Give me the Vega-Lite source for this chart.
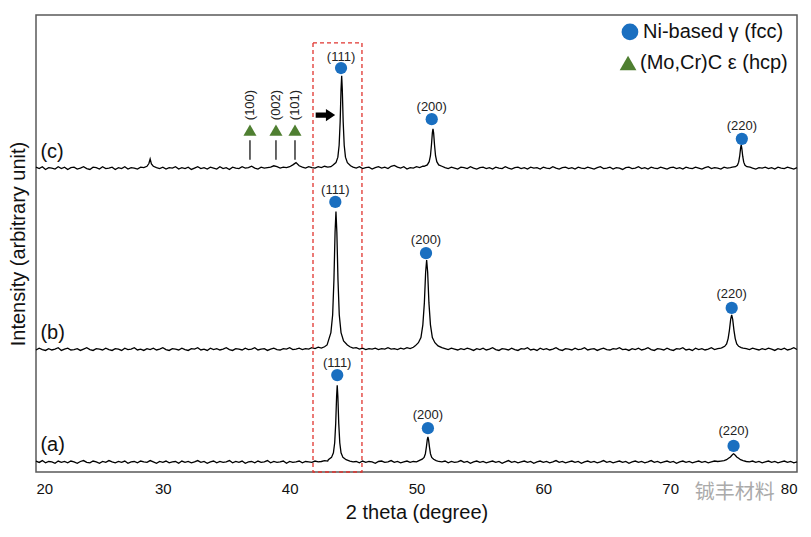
{
  "$schema": "https://vega.github.io/schema/vega-lite/v6.json",
  "width": 761,
  "height": 457,
  "autosize": {"type": "none"},
  "padding": {"left": 36, "top": 15, "right": 14, "bottom": 65},
  "background": "white",
  "config": {
    "view": {"stroke": "#5a5a5a", "strokeWidth": 1.5},
    "font": "Liberation Sans",
    "text": {"font": "Liberation Sans"}
  },
  "datasets": {
    "xrd": [
      {"t":"c","x":20,"y":66.7},{"t":"c","x":20.25,"y":66.4},{"t":"c","x":20.5,"y":66.8},{"t":"c","x":20.75,"y":66.2},{"t":"c","x":21,"y":66.6},{"t":"c","x":21.25,"y":66.5},{"t":"c","x":21.5,"y":66.3},{"t":"c","x":21.75,"y":66.8},{"t":"c","x":22,"y":66.4},{"t":"c","x":22.25,"y":66.7},{"t":"c","x":22.5,"y":66.2},{"t":"c","x":22.75,"y":66.6},{"t":"c","x":23,"y":66.7},{"t":"c","x":23.25,"y":66.3},{"t":"c","x":23.5,"y":66.5},{"t":"c","x":23.75,"y":66.8},{"t":"c","x":24,"y":66.4},{"t":"c","x":24.25,"y":66.2},{"t":"c","x":24.5,"y":66.7},{"t":"c","x":24.75,"y":66.6},{"t":"c","x":25,"y":66.3},{"t":"c","x":25.25,"y":66.8},{"t":"c","x":25.5,"y":66.4},{"t":"c","x":25.75,"y":66.5},{"t":"c","x":26,"y":66.7},{"t":"c","x":26.25,"y":66.2},{"t":"c","x":26.5,"y":66.6},{"t":"c","x":26.75,"y":66.4},{"t":"c","x":27,"y":66.8},{"t":"c","x":27.25,"y":66.3},{"t":"c","x":27.5,"y":66.6},{"t":"c","x":27.75,"y":66.5},{"t":"c","x":28,"y":66.3},{"t":"c","x":28.25,"y":66.7},{"t":"c","x":28.5,"y":66.6},{"t":"c","x":28.75,"y":66.9},{"t":"c","x":28.9,"y":67.5},{"t":"c","x":29,"y":68.5},{"t":"c","x":29.1,"y":67.4},{"t":"c","x":29.25,"y":66.9},{"t":"c","x":29.5,"y":66.6},{"t":"c","x":29.75,"y":66.4},{"t":"c","x":30,"y":66.7},{"t":"c","x":30.25,"y":66.3},{"t":"c","x":30.5,"y":66.6},{"t":"c","x":30.75,"y":66.5},{"t":"c","x":31,"y":66.8},{"t":"c","x":31.25,"y":66.3},{"t":"c","x":31.5,"y":66.6},{"t":"c","x":31.75,"y":66.4},{"t":"c","x":32,"y":66.7},{"t":"c","x":32.25,"y":66.2},{"t":"c","x":32.5,"y":66.5},{"t":"c","x":32.75,"y":66.8},{"t":"c","x":33,"y":66.4},{"t":"c","x":33.25,"y":66.6},{"t":"c","x":33.5,"y":66.3},{"t":"c","x":33.75,"y":66.7},{"t":"c","x":34,"y":66.5},{"t":"c","x":34.25,"y":66.3},{"t":"c","x":34.5,"y":66.8},{"t":"c","x":34.75,"y":66.4},{"t":"c","x":35,"y":66.6},{"t":"c","x":35.25,"y":66.2},{"t":"c","x":35.5,"y":66.7},{"t":"c","x":35.75,"y":66.5},{"t":"c","x":36,"y":66.4},{"t":"c","x":36.25,"y":66.8},{"t":"c","x":36.5,"y":66.5},{"t":"c","x":36.75,"y":66.6},{"t":"c","x":37,"y":66.9},{"t":"c","x":37.25,"y":66.5},{"t":"c","x":37.5,"y":66.3},{"t":"c","x":37.75,"y":66.7},{"t":"c","x":38,"y":66.5},{"t":"c","x":38.25,"y":66.6},{"t":"c","x":38.5,"y":66.7},{"t":"c","x":38.75,"y":67.0},{"t":"c","x":39,"y":66.8},{"t":"c","x":39.25,"y":66.5},{"t":"c","x":39.5,"y":66.7},{"t":"c","x":39.75,"y":66.6},{"t":"c","x":40,"y":66.8},{"t":"c","x":40.25,"y":67.2},{"t":"c","x":40.5,"y":67.7},{"t":"c","x":40.75,"y":67.0},{"t":"c","x":41,"y":66.7},{"t":"c","x":41.25,"y":66.5},{"t":"c","x":41.5,"y":66.8},{"t":"c","x":41.75,"y":66.6},{"t":"c","x":42,"y":66.5},{"t":"c","x":42.25,"y":66.8},{"t":"c","x":42.5,"y":66.6},{"t":"c","x":42.75,"y":66.9},{"t":"c","x":43,"y":66.7},{"t":"c","x":43.25,"y":66.8},
      {"t":"c","x":43.4,"y":67.1},{"t":"c","x":43.65,"y":67.7},{"t":"c","x":43.8,"y":68.9},{"t":"c","x":43.9,"y":71.5},{"t":"c","x":43.98,"y":76.6},{"t":"c","x":44.05,"y":83.7},{"t":"c","x":44.1,"y":86.7},{"t":"c","x":44.15,"y":83.7},{"t":"c","x":44.22,"y":76.6},{"t":"c","x":44.3,"y":71.5},{"t":"c","x":44.4,"y":68.9},{"t":"c","x":44.55,"y":67.7},{"t":"c","x":44.8,"y":67.0},
      {"t":"c","x":45,"y":66.7},{"t":"c","x":45.25,"y":66.5},{"t":"c","x":45.5,"y":66.8},{"t":"c","x":45.75,"y":66.4},{"t":"c","x":46,"y":66.6},{"t":"c","x":46.25,"y":66.7},{"t":"c","x":46.5,"y":66.3},{"t":"c","x":46.75,"y":66.6},{"t":"c","x":47,"y":66.8},{"t":"c","x":47.25,"y":66.5},{"t":"c","x":47.5,"y":66.7},{"t":"c","x":47.75,"y":66.4},{"t":"c","x":48,"y":66.9},{"t":"c","x":48.25,"y":67.1},{"t":"c","x":48.5,"y":66.7},{"t":"c","x":48.75,"y":66.5},{"t":"c","x":49,"y":66.8},{"t":"c","x":49.25,"y":66.3},{"t":"c","x":49.5,"y":66.6},{"t":"c","x":49.75,"y":66.5},{"t":"c","x":50,"y":66.8},{"t":"c","x":50.25,"y":66.6},{"t":"c","x":50.5,"y":66.9},
      {"t":"c","x":50.6,"y":66.9},{"t":"c","x":50.85,"y":67.2},{"t":"c","x":51.0,"y":67.9},{"t":"c","x":51.1,"y":69.2},{"t":"c","x":51.18,"y":71.6},{"t":"c","x":51.25,"y":74.2},{"t":"c","x":51.3,"y":75.1},{"t":"c","x":51.35,"y":74.2},{"t":"c","x":51.42,"y":71.6},{"t":"c","x":51.5,"y":69.2},{"t":"c","x":51.6,"y":67.9},{"t":"c","x":51.75,"y":67.2},{"t":"c","x":52.0,"y":66.9},
      {"t":"c","x":52.25,"y":66.6},{"t":"c","x":52.5,"y":66.4},{"t":"c","x":52.75,"y":66.7},{"t":"c","x":53,"y":66.5},{"t":"c","x":53.25,"y":66.3},{"t":"c","x":53.5,"y":66.7},{"t":"c","x":53.75,"y":66.6},{"t":"c","x":54,"y":66.4},{"t":"c","x":54.25,"y":66.8},{"t":"c","x":54.5,"y":66.5},{"t":"c","x":54.75,"y":66.3},{"t":"c","x":55,"y":66.6},{"t":"c","x":55.25,"y":66.7},{"t":"c","x":55.5,"y":66.4},{"t":"c","x":55.75,"y":66.6},{"t":"c","x":56,"y":66.3},{"t":"c","x":56.25,"y":66.7},{"t":"c","x":56.5,"y":66.5},{"t":"c","x":56.75,"y":66.4},{"t":"c","x":57,"y":66.8},{"t":"c","x":57.25,"y":66.5},{"t":"c","x":57.5,"y":66.3},{"t":"c","x":57.75,"y":66.6},{"t":"c","x":58,"y":66.7},{"t":"c","x":58.25,"y":66.4},{"t":"c","x":58.5,"y":66.6},{"t":"c","x":58.75,"y":66.3},{"t":"c","x":59,"y":66.7},{"t":"c","x":59.25,"y":66.5},{"t":"c","x":59.5,"y":66.6},{"t":"c","x":59.75,"y":66.3},{"t":"c","x":60,"y":66.7},{"t":"c","x":60.25,"y":66.5},{"t":"c","x":60.5,"y":66.4},{"t":"c","x":60.75,"y":66.8},{"t":"c","x":61,"y":66.5},{"t":"c","x":61.25,"y":66.3},{"t":"c","x":61.5,"y":66.6},{"t":"c","x":61.75,"y":66.7},{"t":"c","x":62,"y":66.4},{"t":"c","x":62.25,"y":66.6},{"t":"c","x":62.5,"y":66.3},{"t":"c","x":62.75,"y":66.7},{"t":"c","x":63,"y":66.5},{"t":"c","x":63.25,"y":66.4},{"t":"c","x":63.5,"y":66.7},{"t":"c","x":63.75,"y":66.5},{"t":"c","x":64,"y":66.3},{"t":"c","x":64.25,"y":66.6},{"t":"c","x":64.5,"y":66.8},{"t":"c","x":64.75,"y":66.4},{"t":"c","x":65,"y":66.5},{"t":"c","x":65.25,"y":66.7},{"t":"c","x":65.5,"y":66.3},{"t":"c","x":65.75,"y":66.6},{"t":"c","x":66,"y":66.5},{"t":"c","x":66.25,"y":66.2},{"t":"c","x":66.5,"y":66.6},{"t":"c","x":66.75,"y":66.7},{"t":"c","x":67,"y":66.4},{"t":"c","x":67.25,"y":66.5},{"t":"c","x":67.5,"y":66.8},{"t":"c","x":67.75,"y":66.4},{"t":"c","x":68,"y":66.6},{"t":"c","x":68.25,"y":66.3},{"t":"c","x":68.5,"y":66.7},{"t":"c","x":68.75,"y":66.5},{"t":"c","x":69,"y":66.4},{"t":"c","x":69.25,"y":66.7},{"t":"c","x":69.5,"y":66.5},{"t":"c","x":69.75,"y":66.3},{"t":"c","x":70,"y":66.6},{"t":"c","x":70.25,"y":66.7},{"t":"c","x":70.5,"y":66.4},{"t":"c","x":70.75,"y":66.6},{"t":"c","x":71,"y":66.3},{"t":"c","x":71.25,"y":66.7},{"t":"c","x":71.5,"y":66.5},{"t":"c","x":71.75,"y":66.4},{"t":"c","x":72,"y":66.7},{"t":"c","x":72.25,"y":66.5},{"t":"c","x":72.5,"y":66.3},{"t":"c","x":72.75,"y":66.6},{"t":"c","x":73,"y":66.8},{"t":"c","x":73.25,"y":66.4},{"t":"c","x":73.5,"y":66.6},{"t":"c","x":73.75,"y":66.5},{"t":"c","x":74,"y":66.3},{"t":"c","x":74.25,"y":66.7},{"t":"c","x":74.5,"y":66.5},{"t":"c","x":74.75,"y":66.6},
      {"t":"c","x":74.9,"y":66.7},{"t":"c","x":75.15,"y":66.8},{"t":"c","x":75.3,"y":67.1},{"t":"c","x":75.4,"y":67.8},{"t":"c","x":75.48,"y":69.1},{"t":"c","x":75.55,"y":70.8},{"t":"c","x":75.6,"y":71.6},{"t":"c","x":75.65,"y":70.8},{"t":"c","x":75.72,"y":69.1},{"t":"c","x":75.8,"y":67.8},{"t":"c","x":75.9,"y":67.1},{"t":"c","x":76.05,"y":66.8},{"t":"c","x":76.3,"y":66.7},
      {"t":"c","x":76.5,"y":66.5},{"t":"c","x":76.75,"y":66.3},{"t":"c","x":77,"y":66.6},{"t":"c","x":77.25,"y":66.5},{"t":"c","x":77.5,"y":66.7},{"t":"c","x":77.75,"y":66.4},{"t":"c","x":78,"y":66.6},{"t":"c","x":78.25,"y":66.3},{"t":"c","x":78.5,"y":66.7},{"t":"c","x":78.75,"y":66.5},{"t":"c","x":79,"y":66.4},{"t":"c","x":79.25,"y":66.7},{"t":"c","x":79.5,"y":66.5},{"t":"c","x":79.75,"y":66.3},{"t":"c","x":80,"y":66.6},

      {"t":"b","x":20,"y":26.7},{"t":"b","x":20.25,"y":27.1},{"t":"b","x":20.5,"y":26.8},{"t":"b","x":20.75,"y":26.6},{"t":"b","x":21,"y":27.0},{"t":"b","x":21.25,"y":26.7},{"t":"b","x":21.5,"y":26.9},{"t":"b","x":21.75,"y":27.2},{"t":"b","x":22,"y":26.6},{"t":"b","x":22.25,"y":26.9},{"t":"b","x":22.5,"y":27.1},{"t":"b","x":22.75,"y":26.7},{"t":"b","x":23,"y":26.8},{"t":"b","x":23.25,"y":27.0},{"t":"b","x":23.5,"y":26.6},{"t":"b","x":23.75,"y":26.9},{"t":"b","x":24,"y":27.2},{"t":"b","x":24.25,"y":26.8},{"t":"b","x":24.5,"y":26.6},{"t":"b","x":24.75,"y":27.0},{"t":"b","x":25,"y":26.9},{"t":"b","x":25.25,"y":26.7},{"t":"b","x":25.5,"y":27.1},{"t":"b","x":25.75,"y":26.8},{"t":"b","x":26,"y":26.6},{"t":"b","x":26.25,"y":27.0},{"t":"b","x":26.5,"y":26.9},{"t":"b","x":26.75,"y":26.6},{"t":"b","x":27,"y":27.1},{"t":"b","x":27.25,"y":26.8},{"t":"b","x":27.5,"y":26.9},{"t":"b","x":27.75,"y":27.2},{"t":"b","x":28,"y":26.7},{"t":"b","x":28.25,"y":26.9},{"t":"b","x":28.5,"y":26.6},{"t":"b","x":28.75,"y":27.0},{"t":"b","x":29,"y":26.8},{"t":"b","x":29.25,"y":27.1},{"t":"b","x":29.5,"y":26.7},{"t":"b","x":29.75,"y":26.9},{"t":"b","x":30,"y":27.2},{"t":"b","x":30.25,"y":26.8},{"t":"b","x":30.5,"y":26.6},{"t":"b","x":30.75,"y":27.0},{"t":"b","x":31,"y":26.9},{"t":"b","x":31.25,"y":26.7},{"t":"b","x":31.5,"y":27.1},{"t":"b","x":31.75,"y":26.8},{"t":"b","x":32,"y":26.6},{"t":"b","x":32.25,"y":27.0},{"t":"b","x":32.5,"y":26.9},{"t":"b","x":32.75,"y":27.2},{"t":"b","x":33,"y":26.7},{"t":"b","x":33.25,"y":26.9},{"t":"b","x":33.5,"y":26.6},{"t":"b","x":33.75,"y":27.1},{"t":"b","x":34,"y":26.8},{"t":"b","x":34.25,"y":27.0},{"t":"b","x":34.5,"y":26.7},{"t":"b","x":34.75,"y":26.9},{"t":"b","x":35,"y":27.2},{"t":"b","x":35.25,"y":26.8},{"t":"b","x":35.5,"y":26.6},{"t":"b","x":35.75,"y":27.0},{"t":"b","x":36,"y":26.9},{"t":"b","x":36.25,"y":26.7},{"t":"b","x":36.5,"y":27.1},{"t":"b","x":36.75,"y":26.8},{"t":"b","x":37,"y":26.9},{"t":"b","x":37.25,"y":27.2},{"t":"b","x":37.5,"y":26.7},{"t":"b","x":37.75,"y":26.9},{"t":"b","x":38,"y":27.0},{"t":"b","x":38.25,"y":26.6},{"t":"b","x":38.5,"y":26.9},{"t":"b","x":38.75,"y":27.1},{"t":"b","x":39,"y":26.8},{"t":"b","x":39.25,"y":26.7},{"t":"b","x":39.5,"y":27.0},{"t":"b","x":39.75,"y":26.9},{"t":"b","x":40,"y":27.2},{"t":"b","x":40.25,"y":26.8},{"t":"b","x":40.5,"y":26.9},{"t":"b","x":40.75,"y":27.1},{"t":"b","x":41,"y":26.8},{"t":"b","x":41.25,"y":27.0},{"t":"b","x":41.5,"y":26.9},{"t":"b","x":41.75,"y":27.2},{"t":"b","x":42,"y":27.0},{"t":"b","x":42.25,"y":27.3},{"t":"b","x":42.5,"y":27.1},{"t":"b","x":42.75,"y":27.4},
      {"t":"b","x":42.95,"y":27.8},{"t":"b","x":43.05,"y":28.7},{"t":"b","x":43.25,"y":30.5},{"t":"b","x":43.39,"y":34.4},{"t":"b","x":43.49,"y":42.0},{"t":"b","x":43.58,"y":52.5},{"t":"b","x":43.65,"y":57.0},{"t":"b","x":43.72,"y":52.5},{"t":"b","x":43.81,"y":42.0},{"t":"b","x":43.91,"y":34.4},{"t":"b","x":44.05,"y":30.5},{"t":"b","x":44.25,"y":28.7},{"t":"b","x":44.55,"y":27.8},
      {"t":"b","x":44.75,"y":27.4},{"t":"b","x":45,"y":27.1},{"t":"b","x":45.25,"y":27.2},{"t":"b","x":45.5,"y":26.9},{"t":"b","x":45.75,"y":27.1},{"t":"b","x":46,"y":26.8},{"t":"b","x":46.25,"y":27.0},{"t":"b","x":46.5,"y":26.9},{"t":"b","x":46.75,"y":27.1},{"t":"b","x":47,"y":26.8},{"t":"b","x":47.25,"y":27.0},{"t":"b","x":47.5,"y":26.9},{"t":"b","x":47.75,"y":27.2},{"t":"b","x":48,"y":26.9},{"t":"b","x":48.25,"y":27.0},{"t":"b","x":48.5,"y":26.8},{"t":"b","x":48.75,"y":27.1},{"t":"b","x":49,"y":26.9},{"t":"b","x":49.25,"y":27.2},{"t":"b","x":49.5,"y":27.0},{"t":"b","x":49.75,"y":27.3},
      {"t":"b","x":49.9,"y":27.6},{"t":"b","x":50.15,"y":28.3},{"t":"b","x":50.35,"y":29.4},{"t":"b","x":50.5,"y":32.2},{"t":"b","x":50.62,"y":37.0},{"t":"b","x":50.72,"y":43.7},{"t":"b","x":50.8,"y":46.4},{"t":"b","x":50.88,"y":43.7},{"t":"b","x":50.98,"y":37.0},{"t":"b","x":51.1,"y":32.2},{"t":"b","x":51.25,"y":29.4},{"t":"b","x":51.45,"y":28.3},{"t":"b","x":51.7,"y":27.6},
      {"t":"b","x":52,"y":27.2},{"t":"b","x":52.25,"y":27.0},{"t":"b","x":52.5,"y":26.8},{"t":"b","x":52.75,"y":27.1},{"t":"b","x":53,"y":26.9},{"t":"b","x":53.25,"y":26.7},{"t":"b","x":53.5,"y":27.0},{"t":"b","x":53.75,"y":26.8},{"t":"b","x":54,"y":27.1},{"t":"b","x":54.25,"y":26.9},{"t":"b","x":54.5,"y":26.6},{"t":"b","x":54.75,"y":27.0},{"t":"b","x":55,"y":26.8},{"t":"b","x":55.25,"y":27.1},{"t":"b","x":55.5,"y":26.7},{"t":"b","x":55.75,"y":26.9},{"t":"b","x":56,"y":27.2},{"t":"b","x":56.25,"y":26.8},{"t":"b","x":56.5,"y":26.6},{"t":"b","x":56.75,"y":27.0},{"t":"b","x":57,"y":26.9},{"t":"b","x":57.25,"y":26.7},{"t":"b","x":57.5,"y":27.1},{"t":"b","x":57.75,"y":26.8},{"t":"b","x":58,"y":26.6},{"t":"b","x":58.25,"y":27.0},{"t":"b","x":58.5,"y":26.9},{"t":"b","x":58.75,"y":27.2},{"t":"b","x":59,"y":26.7},{"t":"b","x":59.25,"y":26.9},{"t":"b","x":59.5,"y":26.6},{"t":"b","x":59.75,"y":27.1},{"t":"b","x":60,"y":26.8},{"t":"b","x":60.25,"y":27.0},{"t":"b","x":60.5,"y":26.7},{"t":"b","x":60.75,"y":26.9},{"t":"b","x":61,"y":27.2},{"t":"b","x":61.25,"y":26.8},{"t":"b","x":61.5,"y":26.6},{"t":"b","x":61.75,"y":27.0},{"t":"b","x":62,"y":26.9},{"t":"b","x":62.25,"y":26.7},{"t":"b","x":62.5,"y":27.1},{"t":"b","x":62.75,"y":26.8},{"t":"b","x":63,"y":26.9},{"t":"b","x":63.25,"y":27.2},{"t":"b","x":63.5,"y":26.7},{"t":"b","x":63.75,"y":26.9},{"t":"b","x":64,"y":27.0},{"t":"b","x":64.25,"y":26.6},{"t":"b","x":64.5,"y":26.9},{"t":"b","x":64.75,"y":27.1},{"t":"b","x":65,"y":26.8},{"t":"b","x":65.25,"y":26.7},{"t":"b","x":65.5,"y":27.0},{"t":"b","x":65.75,"y":26.9},{"t":"b","x":66,"y":27.2},{"t":"b","x":66.25,"y":26.8},{"t":"b","x":66.5,"y":26.9},{"t":"b","x":66.75,"y":26.6},{"t":"b","x":67,"y":27.0},{"t":"b","x":67.25,"y":26.8},{"t":"b","x":67.5,"y":27.1},{"t":"b","x":67.75,"y":26.7},{"t":"b","x":68,"y":26.9},{"t":"b","x":68.25,"y":27.2},{"t":"b","x":68.5,"y":26.8},{"t":"b","x":68.75,"y":26.6},{"t":"b","x":69,"y":27.0},{"t":"b","x":69.25,"y":26.9},{"t":"b","x":69.5,"y":26.7},{"t":"b","x":69.75,"y":27.1},{"t":"b","x":70,"y":26.8},{"t":"b","x":70.25,"y":26.6},{"t":"b","x":70.5,"y":27.0},{"t":"b","x":70.75,"y":26.9},{"t":"b","x":71,"y":27.2},{"t":"b","x":71.25,"y":26.7},{"t":"b","x":71.5,"y":26.9},{"t":"b","x":71.75,"y":26.6},{"t":"b","x":72,"y":27.1},{"t":"b","x":72.25,"y":26.8},{"t":"b","x":72.5,"y":27.0},{"t":"b","x":72.75,"y":26.7},{"t":"b","x":73,"y":26.9},{"t":"b","x":73.25,"y":27.2},{"t":"b","x":73.5,"y":26.8},{"t":"b","x":73.75,"y":27.0},{"t":"b","x":74,"y":27.1},
      {"t":"b","x":74.1,"y":27.2},{"t":"b","x":74.3,"y":27.5},{"t":"b","x":74.45,"y":28.0},{"t":"b","x":74.57,"y":29.2},{"t":"b","x":74.67,"y":31.0},{"t":"b","x":74.77,"y":33.4},{"t":"b","x":74.85,"y":34.4},{"t":"b","x":74.93,"y":33.4},{"t":"b","x":75.03,"y":31.0},{"t":"b","x":75.13,"y":29.2},{"t":"b","x":75.25,"y":28.0},{"t":"b","x":75.4,"y":27.5},{"t":"b","x":75.6,"y":27.2},
      {"t":"b","x":75.75,"y":27.1},{"t":"b","x":76,"y":27.0},{"t":"b","x":76.25,"y":26.8},{"t":"b","x":76.5,"y":27.1},{"t":"b","x":76.75,"y":26.9},{"t":"b","x":77,"y":26.7},{"t":"b","x":77.25,"y":27.0},{"t":"b","x":77.5,"y":26.8},{"t":"b","x":77.75,"y":27.1},{"t":"b","x":78,"y":26.9},{"t":"b","x":78.25,"y":26.6},{"t":"b","x":78.5,"y":27.0},{"t":"b","x":78.75,"y":26.8},{"t":"b","x":79,"y":27.1},{"t":"b","x":79.25,"y":26.7},{"t":"b","x":79.5,"y":26.9},{"t":"b","x":79.75,"y":27.2},{"t":"b","x":80,"y":26.8},

      {"t":"a","x":20,"y":2.4},{"t":"a","x":20.25,"y":2.1},{"t":"a","x":20.5,"y":2.5},{"t":"a","x":20.75,"y":2.0},{"t":"a","x":21,"y":2.3},{"t":"a","x":21.25,"y":2.2},{"t":"a","x":21.5,"y":1.9},{"t":"a","x":21.75,"y":2.4},{"t":"a","x":22,"y":2.1},{"t":"a","x":22.25,"y":2.3},{"t":"a","x":22.5,"y":2.0},{"t":"a","x":22.75,"y":2.4},{"t":"a","x":23,"y":2.2},{"t":"a","x":23.25,"y":1.9},{"t":"a","x":23.5,"y":2.3},{"t":"a","x":23.75,"y":2.5},{"t":"a","x":24,"y":2.1},{"t":"a","x":24.25,"y":2.0},{"t":"a","x":24.5,"y":2.4},{"t":"a","x":24.75,"y":2.2},{"t":"a","x":25,"y":1.9},{"t":"a","x":25.25,"y":2.3},{"t":"a","x":25.5,"y":2.1},{"t":"a","x":25.75,"y":2.5},{"t":"a","x":26,"y":2.2},{"t":"a","x":26.25,"y":2.0},{"t":"a","x":26.5,"y":2.3},{"t":"a","x":26.75,"y":2.1},{"t":"a","x":27,"y":2.4},{"t":"a","x":27.25,"y":1.9},{"t":"a","x":27.5,"y":2.2},{"t":"a","x":27.75,"y":2.3},{"t":"a","x":28,"y":2.0},{"t":"a","x":28.25,"y":2.4},{"t":"a","x":28.5,"y":2.2},{"t":"a","x":28.75,"y":2.1},{"t":"a","x":29,"y":2.5},{"t":"a","x":29.25,"y":2.2},{"t":"a","x":29.5,"y":1.9},{"t":"a","x":29.75,"y":2.3},{"t":"a","x":30,"y":2.1},{"t":"a","x":30.25,"y":2.4},{"t":"a","x":30.5,"y":2.0},{"t":"a","x":30.75,"y":2.2},{"t":"a","x":31,"y":2.3},{"t":"a","x":31.25,"y":1.9},{"t":"a","x":31.5,"y":2.4},{"t":"a","x":31.75,"y":2.1},{"t":"a","x":32,"y":2.3},{"t":"a","x":32.25,"y":2.0},{"t":"a","x":32.5,"y":2.2},{"t":"a","x":32.75,"y":2.5},{"t":"a","x":33,"y":2.1},{"t":"a","x":33.25,"y":2.3},{"t":"a","x":33.5,"y":1.9},{"t":"a","x":33.75,"y":2.2},{"t":"a","x":34,"y":2.4},{"t":"a","x":34.25,"y":2.0},{"t":"a","x":34.5,"y":2.3},{"t":"a","x":34.75,"y":2.1},{"t":"a","x":35,"y":2.2},{"t":"a","x":35.25,"y":2.5},{"t":"a","x":35.5,"y":2.0},{"t":"a","x":35.75,"y":2.3},{"t":"a","x":36,"y":2.1},{"t":"a","x":36.25,"y":2.4},{"t":"a","x":36.5,"y":1.9},{"t":"a","x":36.75,"y":2.2},{"t":"a","x":37,"y":2.3},{"t":"a","x":37.25,"y":2.0},{"t":"a","x":37.5,"y":2.4},{"t":"a","x":37.75,"y":2.1},{"t":"a","x":38,"y":2.2},{"t":"a","x":38.25,"y":2.5},{"t":"a","x":38.5,"y":2.0},{"t":"a","x":38.75,"y":2.3},{"t":"a","x":39,"y":2.1},{"t":"a","x":39.25,"y":2.2},{"t":"a","x":39.5,"y":2.4},{"t":"a","x":39.75,"y":1.9},{"t":"a","x":40,"y":2.3},{"t":"a","x":40.25,"y":2.1},{"t":"a","x":40.5,"y":2.2},{"t":"a","x":40.75,"y":2.4},{"t":"a","x":41,"y":2.0},{"t":"a","x":41.25,"y":2.3},{"t":"a","x":41.5,"y":2.2},{"t":"a","x":41.75,"y":2.1},{"t":"a","x":42,"y":2.4},{"t":"a","x":42.25,"y":2.2},{"t":"a","x":42.5,"y":2.3},{"t":"a","x":42.75,"y":2.5},{"t":"a","x":43,"y":2.4},
      {"t":"a","x":43.05,"y":2.7},{"t":"a","x":43.3,"y":3.2},{"t":"a","x":43.45,"y":4.2},{"t":"a","x":43.55,"y":6.4},{"t":"a","x":43.63,"y":10.6},{"t":"a","x":43.7,"y":16.5},{"t":"a","x":43.75,"y":19.0},{"t":"a","x":43.8,"y":16.5},{"t":"a","x":43.87,"y":10.6},{"t":"a","x":43.95,"y":6.4},{"t":"a","x":44.05,"y":4.2},{"t":"a","x":44.2,"y":3.2},{"t":"a","x":44.45,"y":2.7},
      {"t":"a","x":44.75,"y":2.4},{"t":"a","x":45,"y":2.2},{"t":"a","x":45.25,"y":2.3},{"t":"a","x":45.5,"y":2.0},{"t":"a","x":45.75,"y":2.4},{"t":"a","x":46,"y":2.1},{"t":"a","x":46.25,"y":2.3},{"t":"a","x":46.5,"y":2.2},{"t":"a","x":46.75,"y":1.9},{"t":"a","x":47,"y":2.3},{"t":"a","x":47.25,"y":2.4},{"t":"a","x":47.5,"y":2.1},{"t":"a","x":47.75,"y":2.2},{"t":"a","x":48,"y":2.5},{"t":"a","x":48.25,"y":2.1},{"t":"a","x":48.5,"y":2.3},{"t":"a","x":48.75,"y":2.0},{"t":"a","x":49,"y":2.2},{"t":"a","x":49.25,"y":2.4},{"t":"a","x":49.5,"y":2.1},{"t":"a","x":49.75,"y":2.3},{"t":"a","x":50,"y":2.2},{"t":"a","x":50.2,"y":2.5},
      {"t":"a","x":50.45,"y":2.8},{"t":"a","x":50.6,"y":3.2},{"t":"a","x":50.7,"y":4.0},{"t":"a","x":50.78,"y":5.5},{"t":"a","x":50.85,"y":7.1},{"t":"a","x":50.9,"y":7.7},{"t":"a","x":50.95,"y":7.1},{"t":"a","x":51.02,"y":5.5},{"t":"a","x":51.1,"y":4.0},{"t":"a","x":51.2,"y":3.2},{"t":"a","x":51.35,"y":2.8},{"t":"a","x":51.55,"y":2.5},
      {"t":"a","x":51.75,"y":2.3},{"t":"a","x":52,"y":2.2},{"t":"a","x":52.25,"y":2.4},{"t":"a","x":52.5,"y":2.0},{"t":"a","x":52.75,"y":2.3},{"t":"a","x":53,"y":2.1},{"t":"a","x":53.25,"y":2.2},{"t":"a","x":53.5,"y":2.5},{"t":"a","x":53.75,"y":2.1},{"t":"a","x":54,"y":2.3},{"t":"a","x":54.25,"y":1.9},{"t":"a","x":54.5,"y":2.2},{"t":"a","x":54.75,"y":2.4},{"t":"a","x":55,"y":2.1},{"t":"a","x":55.25,"y":2.3},{"t":"a","x":55.5,"y":2.0},{"t":"a","x":55.75,"y":2.2},{"t":"a","x":56,"y":2.4},{"t":"a","x":56.25,"y":2.1},{"t":"a","x":56.5,"y":2.3},{"t":"a","x":56.75,"y":1.9},{"t":"a","x":57,"y":2.2},{"t":"a","x":57.25,"y":2.5},{"t":"a","x":57.5,"y":2.1},{"t":"a","x":57.75,"y":2.3},{"t":"a","x":58,"y":2.0},{"t":"a","x":58.25,"y":2.2},{"t":"a","x":58.5,"y":2.4},{"t":"a","x":58.75,"y":2.1},{"t":"a","x":59,"y":2.3},{"t":"a","x":59.25,"y":1.9},{"t":"a","x":59.5,"y":2.2},{"t":"a","x":59.75,"y":2.4},{"t":"a","x":60,"y":2.1},{"t":"a","x":60.25,"y":2.3},{"t":"a","x":60.5,"y":2.0},{"t":"a","x":60.75,"y":2.2},{"t":"a","x":61,"y":2.5},{"t":"a","x":61.25,"y":2.1},{"t":"a","x":61.5,"y":2.3},{"t":"a","x":61.75,"y":2.0},{"t":"a","x":62,"y":2.2},{"t":"a","x":62.25,"y":2.4},{"t":"a","x":62.5,"y":2.1},{"t":"a","x":62.75,"y":2.3},{"t":"a","x":63,"y":1.9},{"t":"a","x":63.25,"y":2.2},{"t":"a","x":63.5,"y":2.4},{"t":"a","x":63.75,"y":2.1},{"t":"a","x":64,"y":2.3},{"t":"a","x":64.25,"y":2.0},{"t":"a","x":64.5,"y":2.2},{"t":"a","x":64.75,"y":2.5},{"t":"a","x":65,"y":2.1},{"t":"a","x":65.25,"y":2.3},{"t":"a","x":65.5,"y":2.0},{"t":"a","x":65.75,"y":2.2},{"t":"a","x":66,"y":2.4},{"t":"a","x":66.25,"y":2.1},{"t":"a","x":66.5,"y":2.3},{"t":"a","x":66.75,"y":1.9},{"t":"a","x":67,"y":2.2},{"t":"a","x":67.25,"y":2.4},{"t":"a","x":67.5,"y":2.1},{"t":"a","x":67.75,"y":2.3},{"t":"a","x":68,"y":2.0},{"t":"a","x":68.25,"y":2.2},{"t":"a","x":68.5,"y":2.5},{"t":"a","x":68.75,"y":2.1},{"t":"a","x":69,"y":2.3},{"t":"a","x":69.25,"y":2.0},{"t":"a","x":69.5,"y":2.2},{"t":"a","x":69.75,"y":2.4},{"t":"a","x":70,"y":2.1},{"t":"a","x":70.25,"y":2.3},{"t":"a","x":70.5,"y":1.9},{"t":"a","x":70.75,"y":2.2},{"t":"a","x":71,"y":2.4},{"t":"a","x":71.25,"y":2.1},{"t":"a","x":71.5,"y":2.3},{"t":"a","x":71.75,"y":2.0},{"t":"a","x":72,"y":2.2},{"t":"a","x":72.25,"y":2.4},{"t":"a","x":72.5,"y":2.1},{"t":"a","x":72.75,"y":2.3},{"t":"a","x":73,"y":2.0},{"t":"a","x":73.25,"y":2.2},{"t":"a","x":73.5,"y":2.4},{"t":"a","x":73.75,"y":2.3},{"t":"a","x":74,"y":2.4},{"t":"a","x":74.25,"y":2.5},
      {"t":"a","x":74.45,"y":2.7},{"t":"a","x":74.6,"y":3.0},{"t":"a","x":74.75,"y":3.3},{"t":"a","x":74.85,"y":3.6},{"t":"a","x":74.95,"y":3.9},{"t":"a","x":75.0,"y":4.0},{"t":"a","x":75.05,"y":3.9},{"t":"a","x":75.15,"y":3.6},{"t":"a","x":75.25,"y":3.3},{"t":"a","x":75.4,"y":3.0},{"t":"a","x":75.55,"y":2.7},
      {"t":"a","x":75.75,"y":2.5},{"t":"a","x":76,"y":2.3},{"t":"a","x":76.25,"y":2.2},{"t":"a","x":76.5,"y":2.4},{"t":"a","x":76.75,"y":2.1},{"t":"a","x":77,"y":2.3},{"t":"a","x":77.25,"y":2.0},{"t":"a","x":77.5,"y":2.2},{"t":"a","x":77.75,"y":2.4},{"t":"a","x":78,"y":2.1},{"t":"a","x":78.25,"y":2.3},{"t":"a","x":78.5,"y":2.0},{"t":"a","x":78.75,"y":2.2},{"t":"a","x":79,"y":2.4},{"t":"a","x":79.25,"y":2.1},{"t":"a","x":79.5,"y":2.3},{"t":"a","x":79.75,"y":2.0},{"t":"a","x":80,"y":2.2}
    ],
    "box": [{"x": 41.84, "x2": 45.7, "y": 0, "y2": 93.9}],
    "circles": [
      {"x": 44.05, "y": 88.4}, {"x": 51.2, "y": 77.2}, {"x": 75.65, "y": 72.9},
      {"x": 43.6, "y": 59.1}, {"x": 50.75, "y": 47.9}, {"x": 74.85, "y": 35.9},
      {"x": 43.75, "y": 21.2}, {"x": 50.9, "y": 9.6}, {"x": 75.0, "y": 5.7}
    ],
    "hkl": [
      {"x": 44.05, "y": 90.9, "label": "(111)"}, {"x": 51.2, "y": 79.9, "label": "(200)"}, {"x": 75.65, "y": 75.7, "label": "(220)"},
      {"x": 43.6, "y": 61.8, "label": "(111)"}, {"x": 50.75, "y": 50.7, "label": "(200)"}, {"x": 74.85, "y": 38.9, "label": "(220)"},
      {"x": 43.75, "y": 23.9, "label": "(111)"}, {"x": 50.9, "y": 12.4, "label": "(200)"}, {"x": 75.0, "y": 8.9, "label": "(220)"}
    ],
    "carbide": [
      {"x": 36.87, "y": 74.8, "ry": 72.6, "ry2": 68.3, "ly": 80.3, "label": "(100)"},
      {"x": 38.92, "y": 74.8, "ry": 72.6, "ry2": 68.3, "ly": 80.3, "label": "(002)"},
      {"x": 40.42, "y": 74.8, "ry": 72.6, "ry2": 68.3, "ly": 80.3, "label": "(101)"}
    ],
    "samples": [
      {"x": 20.35, "y": 70.0, "label": "(c)"},
      {"x": 20.35, "y": 30.4, "label": "(b)"},
      {"x": 20.35, "y": 5.9, "label": "(a)"}
    ],
    "legend": [
      {"x": 66.83, "y": 96.3, "tx": 67.86, "shape": "circle", "label": "Ni-based γ (fcc)"},
      {"x": 66.68, "y": 89.5, "tx": 67.62, "shape": "triangle", "label": "(Mo,Cr)C ε (hcp)"}
    ],
    "arrow": [{"x": 42.82, "y": 78.1}],
    "mark": [{"x": 75.1, "y": -4.6, "label": "铖丰材料"}]
  },
  "encoding": {
    "x": {
      "field": "x", "type": "quantitative",
      "scale": {"domain": [20, 80], "nice": false, "zero": false},
      "axis": {
        "title": "2 theta (degree)", "values": [20, 30, 40, 50, 60, 70, 80],
        "ticks": false, "domain": false, "grid": false,
        "labelFontSize": 15, "labelColor": "#111", "labelPadding": 9, "labelFont": "Liberation Sans",
        "titleFontSize": 20, "titleFontWeight": "normal", "titleColor": "#111", "titlePadding": 6, "titleFont": "Liberation Sans"
      }
    },
    "y": {
      "field": "y", "type": "quantitative",
      "scale": {"domain": [0, 100], "nice": false, "zero": false},
      "axis": {
        "title": "Intensity (arbitrary unit)", "labels": false, "ticks": false, "domain": false, "grid": false,
        "titleFontSize": 20, "titleFontWeight": "normal", "titleColor": "#111", "titlePadding": 8, "titleFont": "Liberation Sans"
      }
    }
  },
  "layer": [
    {
      "data": {"name": "xrd"},
      "mark": {"type": "line", "color": "#000", "strokeWidth": 1.3, "interpolate": "linear"},
      "encoding": {"detail": {"field": "t"}}
    },
    {
      "data": {"name": "box"},
      "mark": {"type": "rect", "fillOpacity": 0, "stroke": "#e0342f", "strokeWidth": 1.3, "strokeDash": [4, 3]},
      "encoding": {"x2": {"field": "x2"}, "y2": {"field": "y2"}}
    },
    {
      "data": {"name": "carbide"},
      "mark": {"type": "rule", "color": "#000", "strokeWidth": 1.2},
      "encoding": {"y": {"field": "ry", "type": "quantitative"}, "y2": {"field": "ry2"}}
    },
    {
      "data": {"name": "carbide"},
      "mark": {"type": "point", "shape": "triangle-up", "filled": true, "color": "#4f7f31", "size": 170, "opacity": 1}
    },
    {
      "data": {"name": "carbide"},
      "mark": {"type": "text", "angle": 270, "fontSize": 13, "color": "#222", "align": "center", "baseline": "middle"},
      "encoding": {"y": {"field": "ly", "type": "quantitative"}, "text": {"field": "label"}}
    },
    {
      "data": {"name": "circles"},
      "mark": {"type": "point", "shape": "circle", "filled": true, "color": "#1a6fc0", "size": 150, "opacity": 1}
    },
    {
      "data": {"name": "hkl"},
      "mark": {"type": "text", "fontSize": 13, "color": "#222", "align": "center", "baseline": "middle"},
      "encoding": {"text": {"field": "label"}}
    },
    {
      "data": {"name": "samples"},
      "mark": {"type": "text", "fontSize": 20, "color": "#111", "align": "left", "baseline": "middle"},
      "encoding": {"text": {"field": "label"}}
    },
    {
      "data": {"name": "legend"},
      "mark": {"type": "point", "filled": true, "size": 280, "opacity": 1},
      "encoding": {
        "shape": {"field": "shape", "type": "nominal", "scale": {"domain": ["circle", "triangle"], "range": ["circle", "triangle-up"]}, "legend": null},
        "color": {"field": "shape", "type": "nominal", "scale": {"domain": ["circle", "triangle"], "range": ["#1a6fc0", "#4f7f31"]}, "legend": null}
      }
    },
    {
      "data": {"name": "legend"},
      "mark": {"type": "text", "fontSize": 20, "color": "#111", "align": "left", "baseline": "middle"},
      "encoding": {"x": {"field": "tx", "type": "quantitative"}, "text": {"field": "label"}}
    },
    {
      "data": {"name": "arrow"},
      "mark": {"type": "point", "filled": true, "color": "#000", "opacity": 1, "size": 380,
        "shape": "M-1,-0.27 L0.05,-0.27 L0.05,-0.63 L1,0 L0.05,0.63 L0.05,0.27 L-1,0.27 Z"}
    },
    {
      "data": {"name": "mark"},
      "mark": {"type": "text", "fontSize": 20, "color": "#aaaaaa", "align": "center", "baseline": "middle", "font": "Noto Sans CJK SC", "clip": false},
      "encoding": {"text": {"field": "label"}}
    }
  ]
}
